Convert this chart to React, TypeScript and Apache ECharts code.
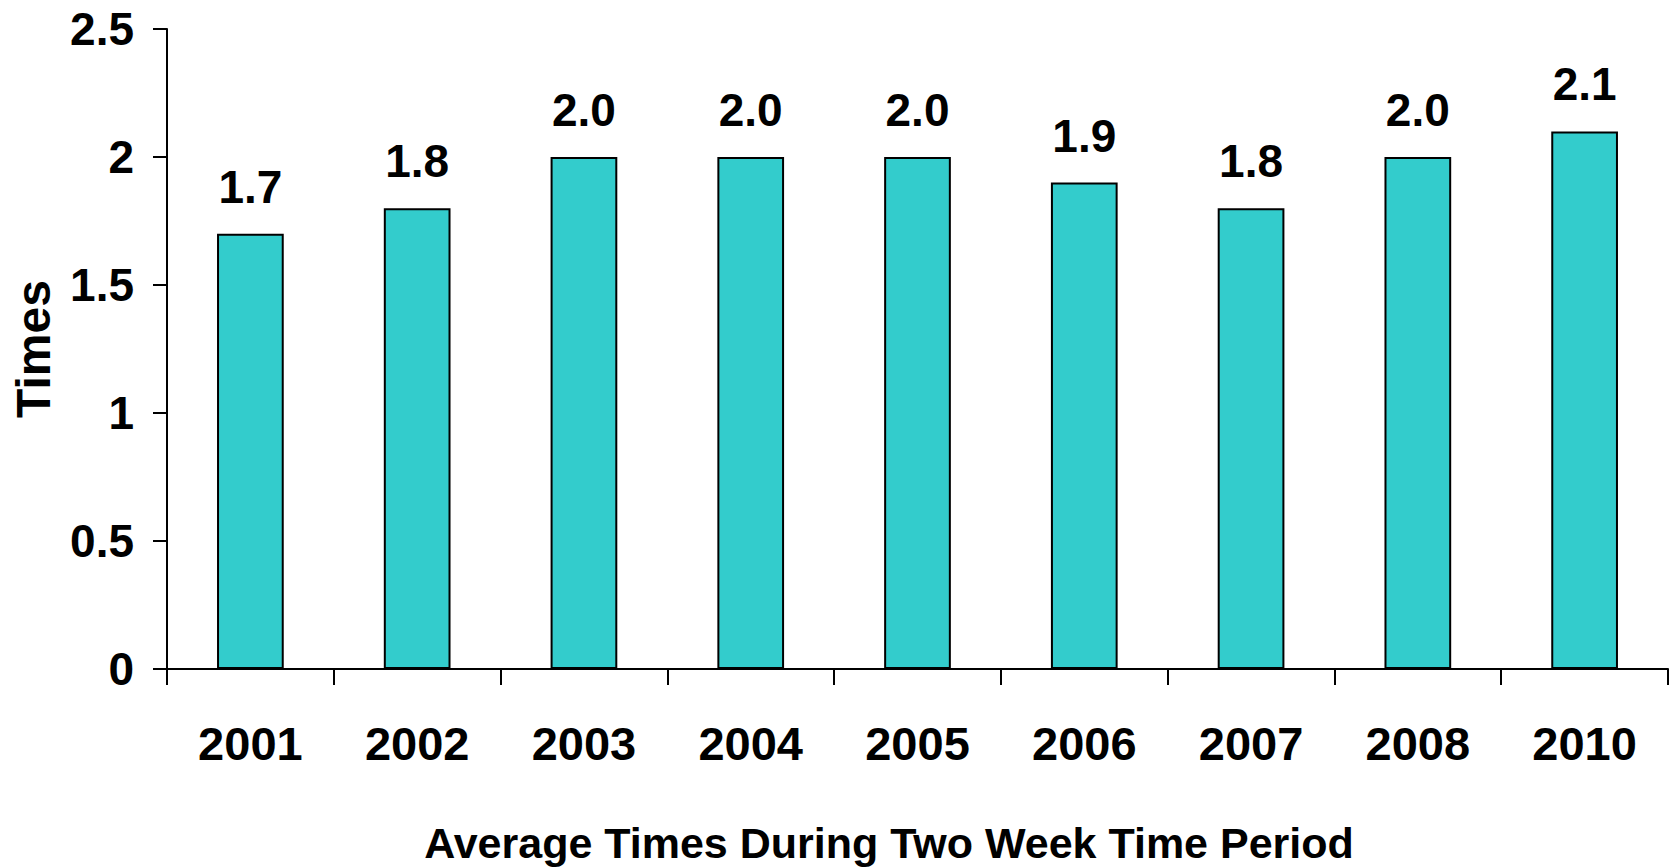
import React, { useEffect, useRef } from "react";
import * as echarts from "echarts";

const categories = ["2001", "2002", "2003", "2004", "2005", "2006", "2007", "2008", "2010"];
const values = [1.7, 1.8, 2.0, 2.0, 2.0, 1.9, 1.8, 2.0, 2.1];
const yTicks = [0, 0.5, 1, 1.5, 2, 2.5];

const FONT = "'Liberation Sans', Arial, Helvetica, sans-serif";

export default function App() {
  const ref = useRef<HTMLDivElement>(null);
  useEffect(() => {
    document.body.style.margin = "0";
    const chart = echarts.init(ref.current!, undefined, { renderer: "svg" });
    chart.setOption({
      animation: false,
      backgroundColor: "#ffffff",
      grid: {
        left: 167,
        right: 3,
        top: 29,
        bottom: 198,
        containLabel: false,
        outerBoundsMode: "none",
      },
      xAxis: {
        type: "category",
        data: categories,
        name: "Average Times During Two Week Time Period",
        nameLocation: "middle",
        nameGap: 152,
        nameTextStyle: {
          fontFamily: FONT,
          fontWeight: "bold",
          fontSize: 43,
          color: "#000",
          padding: [0, 57, 0, 0],
        },
        axisLine: { show: true, lineStyle: { color: "#000", width: 2 } },
        axisTick: { show: true, alignWithLabel: false, length: 16, lineStyle: { color: "#000", width: 2 } },
        axisLabel: {
          margin: 51,
          fontFamily: FONT,
          fontWeight: "bold",
          fontSize: 47,
          color: "#000",
          interval: 0,
        },
        splitLine: { show: false },
      },
      yAxis: {
        type: "value",
        min: 0,
        max: 2.5,
        interval: 0.5,
        name: "Times",
        nameLocation: "middle",
        nameGap: 110,
        nameRotate: 90,
        nameTextStyle: { fontFamily: FONT, fontWeight: "bold", fontSize: 48, color: "#000" },
        axisLine: { show: true, lineStyle: { color: "#000", width: 2 } },
        axisTick: { show: true, length: 14, lineStyle: { color: "#000", width: 2 } },
        axisLabel: {
          margin: 33,
          fontFamily: FONT,
          fontWeight: "bold",
          fontSize: 46,
          color: "#000",
          formatter: (v: number) => (yTicks.includes(v) ? String(v) : ""),
        },
        splitLine: { show: false },
      },
      series: [
        {
          type: "bar",
          data: values,
          barWidth: "40%",
          itemStyle: { color: "#33CCCC", borderColor: "#000", borderWidth: 2 },
          label: {
            show: true,
            position: "top",
            distance: 24,
            fontFamily: FONT,
            fontWeight: "bold",
            fontSize: 46,
            color: "#000",
            formatter: (p: any) => Number(p.value).toFixed(1),
          },
        },
      ],
    });
    return () => chart.dispose();
  }, []);
  return <div ref={ref} style={{ width: 1671, height: 867 }} />;
}
